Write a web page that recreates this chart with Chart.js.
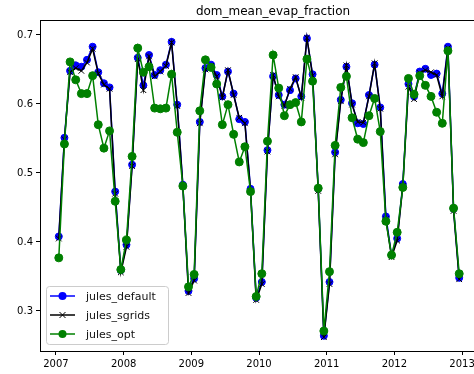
<!DOCTYPE html>
<html>
<head>
<meta charset="utf-8">
<script src="https://cdn.jsdelivr.net/npm/chart.js@4.4.1/dist/chart.umd.min.js"></script>
<style>
  html, body { margin: 0; padding: 0; background: #fff; overflow: hidden; }
  #wrap { width: 490px; height: 374px; }
</style>
</head>
<body>
<div id="wrap"><canvas id="chart" width="490" height="374"></canvas></div>
<script>
const chartTitle = "dom_mean_evap_fraction";
const seriesNames = ["jules_default", "jules_sgrids", "jules_opt"];
const years = [2007, 2008, 2009, 2010, 2011, 2012];
const xTicks = [2007, 2008, 2009, 2010, 2011, 2012, 2013];
const yTicks = [0.3, 0.4, 0.5, 0.6, 0.7];

// monthly values, Jan 2007 .. Dec 2012
const julesDefault = [
  0.408, 0.551, 0.648, 0.656, 0.654, 0.664, 0.683, 0.646, 0.630, 0.624, 0.473, 0.359,
  0.396, 0.512, 0.667, 0.627, 0.671, 0.642, 0.649, 0.657, 0.690, 0.599, 0.483, 0.329,
  0.347, 0.574, 0.652, 0.657, 0.642, 0.611, 0.647, 0.615, 0.578, 0.574, 0.477, 0.319,
  0.342, 0.533, 0.640, 0.613, 0.599, 0.620, 0.637, 0.611, 0.695, 0.643, 0.477, 0.264,
  0.342, 0.530, 0.606, 0.654, 0.601, 0.572, 0.571, 0.613, 0.657, 0.595, 0.437, 0.381,
  0.405, 0.484, 0.629, 0.611, 0.647, 0.651, 0.642, 0.644, 0.615, 0.683, 0.448, 0.348
];
const julesSgrids = [
  0.405, 0.549, 0.646, 0.652, 0.648, 0.660, 0.680, 0.644, 0.628, 0.622, 0.470, 0.356,
  0.393, 0.510, 0.665, 0.620, 0.669, 0.640, 0.647, 0.655, 0.689, 0.597, 0.481, 0.326,
  0.344, 0.572, 0.650, 0.655, 0.640, 0.609, 0.649, 0.613, 0.580, 0.572, 0.474, 0.316,
  0.339, 0.531, 0.642, 0.611, 0.597, 0.622, 0.639, 0.609, 0.696, 0.641, 0.474, 0.262,
  0.339, 0.527, 0.604, 0.656, 0.599, 0.574, 0.573, 0.611, 0.659, 0.593, 0.433, 0.378,
  0.402, 0.481, 0.625, 0.607, 0.645, 0.649, 0.646, 0.642, 0.611, 0.681, 0.445, 0.346
];
const julesOpt = [
  0.377, 0.542, 0.661, 0.635, 0.615, 0.615, 0.641, 0.570, 0.536, 0.561, 0.459, 0.360,
  0.403, 0.524, 0.681, 0.646, 0.654, 0.594, 0.593, 0.594, 0.643, 0.559, 0.481, 0.335,
  0.353, 0.590, 0.664, 0.653, 0.629, 0.570, 0.599, 0.556, 0.516, 0.538, 0.473, 0.321,
  0.354, 0.546, 0.671, 0.623, 0.583, 0.599, 0.602, 0.574, 0.665, 0.633, 0.478, 0.271,
  0.357, 0.540, 0.624, 0.640, 0.580, 0.549, 0.544, 0.583, 0.608, 0.560, 0.430, 0.381,
  0.414, 0.479, 0.637, 0.614, 0.641, 0.627, 0.611, 0.588, 0.572, 0.677, 0.449, 0.354
];

// mid-month dates as decimal years
const dates = [];
years.forEach((y) => {
  for (let m = 0; m < 12; m++) dates.push(y + (m + 0.5) / 12);
});
const toPoints = (vals) => vals.map((v, i) => ({ x: dates[i], y: v }));

const FONT = "'DejaVu Sans', sans-serif";

const styles = [
  { color: "#0000ff", pointStyle: "circle", radius: 3.5, order: 3 },
  { color: "#000000", pointStyle: "crossRot", radius: 4, order: 2 },
  { color: "#008000", pointStyle: "circle", radius: 4, order: 1 }
];
const allSeries = [julesDefault, julesSgrids, julesOpt];

const datasets = allSeries.map((vals, i) => ({
  label: seriesNames[i],
  data: toPoints(vals),
  borderColor: styles[i].color,
  backgroundColor: styles[i].color,
  pointBackgroundColor: styles[i].color,
  pointBorderColor: styles[i].color,
  pointStyle: styles[i].pointStyle,
  pointRadius: styles[i].radius,
  pointBorderWidth: 1,
  borderWidth: 1.5,
  tension: 0,
  order: styles[i].order
}));

// title, top/right spines and matplotlib-like legend
const decor = {
  id: "decor",
  afterDraw(chart) {
    const ctx = chart.ctx;
    const a = chart.chartArea;
    ctx.save();
    ctx.strokeStyle = "#000";
    ctx.lineWidth = 1;
    ctx.beginPath();
    ctx.moveTo(a.left, a.top + 0.5);
    ctx.lineTo(a.right, a.top + 0.5);
    ctx.lineTo(a.right - 0.5, a.bottom);
    ctx.stroke();

    ctx.fillStyle = "#000";
    ctx.font = "12px " + FONT;
    ctx.textAlign = "center";
    ctx.textBaseline = "alphabetic";
    ctx.fillText(chartTitle, 273, 15);

    // legend box
    const bx = 46, by = 286, bw = 122, bh = 58, r = 3;
    ctx.globalAlpha = 0.8;
    ctx.fillStyle = "#fff";
    ctx.beginPath();
    ctx.roundRect(bx + 0.5, by + 0.5, bw, bh, r);
    ctx.fill();
    ctx.globalAlpha = 1;
    ctx.strokeStyle = "#cccccc";
    ctx.stroke();

    ctx.font = "11px " + FONT;
    ctx.textAlign = "left";
    ctx.textBaseline = "middle";
    const rows = [296, 315, 334];
    seriesNames.forEach((name, i) => {
      const y = rows[i];
      const c = styles[i].color;
      ctx.strokeStyle = c;
      ctx.fillStyle = c;
      ctx.lineWidth = 1.5;
      ctx.beginPath();
      ctx.moveTo(50, y);
      ctx.lineTo(75, y);
      ctx.stroke();
      if (styles[i].pointStyle === "circle") {
        ctx.beginPath();
        ctx.arc(62.5, y, 4, 0, Math.PI * 2);
        ctx.fill();
      } else {
        ctx.lineWidth = 1;
        ctx.beginPath();
        ctx.moveTo(59.5, y - 3); ctx.lineTo(65.5, y + 3);
        ctx.moveTo(65.5, y - 3); ctx.lineTo(59.5, y + 3);
        ctx.stroke();
      }
      ctx.fillStyle = "#111";
      ctx.fillText(name, 86, y + 1);
    });
    ctx.restore();
  }
};

new Chart(document.getElementById("chart"), {
  type: "line",
  data: { datasets: datasets },
  options: {
    responsive: false,
    animation: false,
    devicePixelRatio: 1,
    layout: { padding: { top: 20, right: 12, left: 0, bottom: 0 } },
    plugins: {
      legend: { display: false },
      title: { display: false },
      tooltip: { enabled: false }
    },
    scales: {
      x: {
        type: "linear",
        min: 2006.764,
        max: 2013.236,
        afterBuildTicks: (scale) => { scale.ticks = xTicks.map((v) => ({ value: v })); },
        afterFit: (scale) => { scale.height = 23; },
        border: { display: true, color: "#000", width: 1 },
        grid: { drawOnChartArea: false, drawTicks: true, tickLength: 4, color: "#000" },
        ticks: {
          color: "#000",
          font: { family: FONT, size: 10 },
          padding: 3,
          maxRotation: 0,
          callback: (v) => String(v)
        }
      },
      y: {
        type: "linear",
        min: 0.242,
        max: 0.7217,
        afterBuildTicks: (scale) => { scale.ticks = yTicks.map((v) => ({ value: v })); },
        afterFit: (scale) => { scale.width = 40; },
        border: { display: true, color: "#000", width: 1 },
        grid: { drawOnChartArea: false, drawTicks: true, tickLength: 4, color: "#000" },
        ticks: {
          color: "#000",
          font: { family: FONT, size: 10 },
          padding: 3,
          callback: (v) => v.toFixed(1)
        }
      }
    }
  },
  plugins: [decor]
});
</script>
</body>
</html>
